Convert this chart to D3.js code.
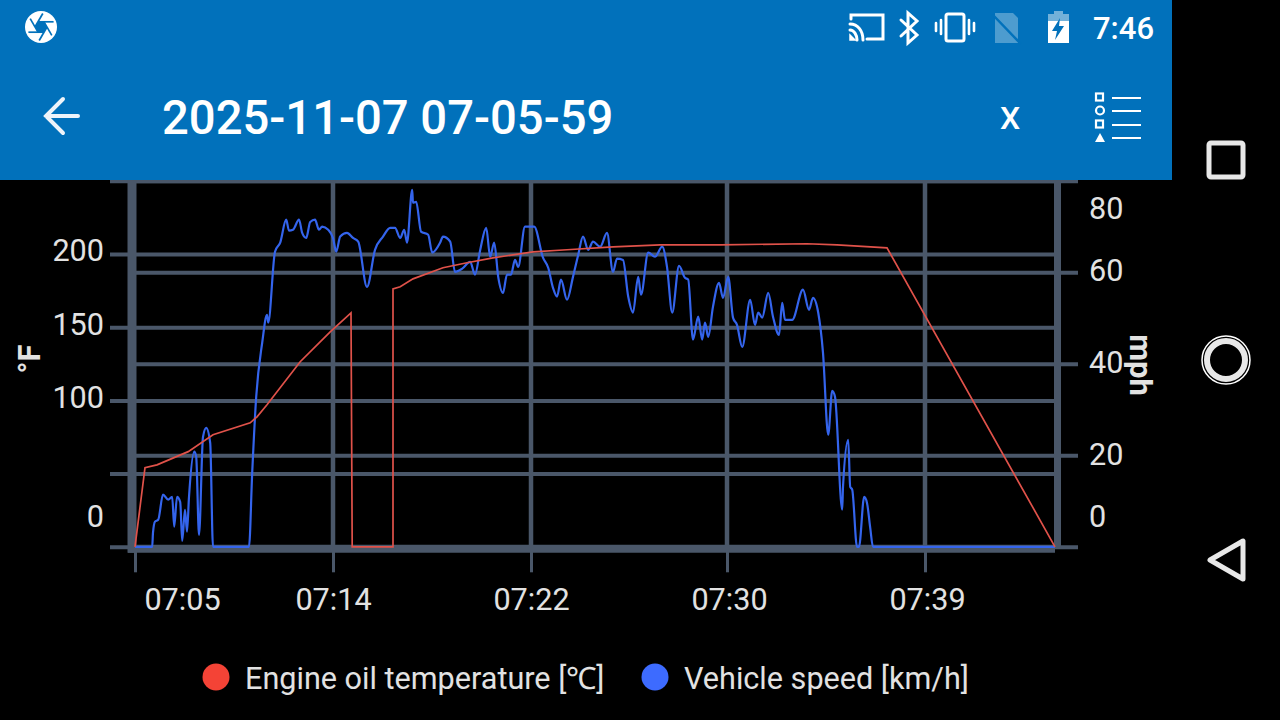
<!DOCTYPE html>
<html>
<head>
<meta charset="utf-8">
<script src="https://cdn.jsdelivr.net/npm/d3@7"></script>
<style>
	html, body { margin: 0; background: #000; overflow: hidden; }
	text { font-family: Roboto, sans-serif; }
</style>
</head>
<body>
<svg id="chart" width="1280" height="720"></svg>
<script>
// seconds after 07:05:59
const tick_seconds = [0, 495, 990, 1480, 1975];
const tick_labels = ["07:05", "07:14", "07:22", "07:30", "07:39"];
const temp_ticks = [0, 50, 100, 150, 200, 250];
const temp_labels = ["0", "", "100", "150", "200", ""];
const speed_ticks = [0, 20, 40, 60, 80];
const series_names = ["Engine oil temperature [℃]", "Vehicle speed [km/h]"];

// [seconds, °F]
const oil_temp = [
	[0,0],[25,54],[55,56],[133,65],[195,76.5],[288,84.7],[305,88.8],[330,97],[413,126.4],[488,146.8],
	[540,159.8],[543,0],[645,0],[645,176.2],[663,177.6],[695,183],[770,190.6],[830,194],[895,197.4],
	[995,201.5],[1080,202.9],[1195,204.9],[1313,206.3],[1463,206.3],[1680,207],[1755,206.3],[1880,204.2],[2300,0]
];

// [seconds, mph]
const speed = [
	[0,0],[43,0],[45,3.1],[50,5.5],[58,5.9],[70,11.4],[83,10.3],[93,10.9],[98,4.4],[105,10.9],
	[113,9.8],[118,1.3],[125,8.1],[130,3.3],[135,10.9],[148,20.8],[153,19.7],[160,2.6],[170,24],[178,26],
	[188,22.7],[195,0],[285,0],[293,16.2],[303,32.8],[318,44.6],[330,50.7],[333,49],[350,64.5],[363,66.5],
	[378,71.5],[385,69.1],[395,69.3],[410,71.5],[418,68.6],[428,67.5],[438,71],[450,71.5],[460,69.3],[468,70],
	[483,69.3],[495,67.5],[503,64.5],[513,67.8],[530,68.6],[545,67.5],[558,66.7],[580,56.8],[600,64.9],[620,67.8],
	[638,69.7],[650,69.7],[663,67.5],[673,69.3],[680,66.5],[693,78],[695,75.2],[703,75.4],[715,68.9],[733,68.2],
	[743,64.3],[763,66.5],[770,67.8],[788,66.7],[800,60.1],[818,60.8],[838,62.3],[850,59.5],[863,64.9],[878,69.7],
	[888,63.4],[898,66.5],[908,59],[920,55.5],[930,59.5],[940,59.5],[950,62.7],[958,61.2],[975,70],[998,70],
	[1020,63.2],[1033,61],[1045,56.6],[1055,54.7],[1065,58.4],[1080,54],[1095,59],[1108,63.8],[1120,67.8],[1133,64.9],
	[1145,66.7],[1163,65.6],[1180,68.6],[1195,60.1],[1205,63],[1220,62.7],[1233,54.7],[1245,51.2],[1258,59],[1265,55.1],
	[1283,64.3],[1300,63.4],[1318,65.6],[1330,61.2],[1343,51.2],[1360,61.4],[1375,58.8],[1383,58.4],[1395,45.3],[1408,50.3],
	[1418,45.3],[1425,49],[1433,45.9],[1445,52.5],[1460,57.7],[1470,54.4],[1483,59],[1495,50.1],[1505,48.5],[1518,43.7],
	[1538,54],[1550,48.5],[1558,51.2],[1568,50.1],[1583,55.5],[1595,50.3],[1610,46.3],[1618,53.3],[1625,49.6],[1643,49.6],
	[1670,56.2],[1685,51.8],[1695,54.4],[1708,51.2],[1720,42.4],[1733,24.5],[1743,34.1],[1750,32.8],[1768,8.1],[1770,13.1],
	[1783,23.4],[1788,13.1],[1793,12.5],[1805,0],[1810,0],[1823,10.9],[1830,9.6],[1838,4.2],[1845,0],[2300,0]
];

const grid_color = "#4a5769";
const text_color = "#e2e2e2";
const red = "#e0524a";
const blue = "#3464ec";
const header_color = "#0171bb";
const label_size = 30.6;

const $svg = d3.select("#chart");

const plot_left = 135, plot_right = 1055;
const plot_top = 180.8, plot_bottom = 546.8;

const x = d3.scaleLinear().domain([0, 2300]).range([plot_left, plot_right]);
const y_temp = d3.scaleLinear().domain([0, 250]).range([plot_bottom, plot_top]);
const y_speed = d3.scaleLinear().domain([0, 80]).range([plot_bottom, plot_top]);

function style_axis($g, width) {
	$g.select(".domain").remove();
	$g.selectAll("line").attr("stroke", grid_color).attr("stroke-width", width);
	$g.selectAll("text")
		.attr("fill", text_color)
		.attr("font-size", label_size);
}

// left axis, ticks stick out to the left and run across as grid
const $left = $svg.append("g")
	.attr("transform", `translate(${plot_left},0)`)
	.call(d3.axisLeft(y_temp)
		.tickValues(temp_ticks)
		.tickFormat((d, i) => temp_labels[i])
		.tickSizeOuter(0)
		.tickSizeInner(0));
$left.selectAll("line")
	.attr("x1", -25)
	.attr("x2", plot_right - plot_left);
style_axis($left, 4);
$left.selectAll("text")
	.attr("x", -31)
	.attr("dy", d => d == 0 ? -20 : d == 200 ? 6 : 7);

const $right = $svg.append("g")
	.attr("transform", `translate(${plot_right},0)`)
	.call(d3.axisRight(y_speed)
		.tickValues(speed_ticks)
		.tickSizeOuter(0)
		.tickSizeInner(23));
$right.selectAll("line").attr("x1", plot_left - plot_right);
style_axis($right, 4);
$right.selectAll("text")
	.attr("x", 34)
	.attr("dy", d => d == 0 ? -20 : d == 80 ? 38 : d == 60 ? 8 : 9);

const $bottom = $svg.append("g")
	.attr("transform", `translate(0,${plot_bottom + 1.5})`)
	.call(d3.axisBottom(x)
		.tickValues(tick_seconds)
		.tickFormat((d, i) => tick_labels[i])
		.tickSizeOuter(0)
		.tickSizeInner(24));
style_axis($bottom, 3);
$bottom.selectAll("text")
	.attr("y", 43)
	.attr("dy", 19)
	.attr("x", (d, i) => i == 0 ? 47 : i > 2 ? 2 : 0);

// thicker lines on the plot frame and the vertical grid
const $frame = $svg.append("g").attr("stroke", grid_color).attr("fill", "none");
$frame.selectAll(".vgrid")
	.data(tick_seconds.slice(1))
	.enter()
	.append("line")
	.attr("x1", d => x(d)).attr("x2", d => x(d))
	.attr("y1", plot_top).attr("y2", plot_bottom)
	.attr("stroke-width", 4.5);
$frame.append("line")
	.attr("x1", plot_left - 3).attr("x2", plot_left - 3)
	.attr("y1", plot_top).attr("y2", plot_bottom + 6)
	.attr("stroke-width", 9);
$frame.append("line")
	.attr("x1", plot_right + 2.5).attr("x2", plot_right + 2.5)
	.attr("y1", plot_top).attr("y2", plot_bottom + 1)
	.attr("stroke-width", 7);
$frame.append("line")
	.attr("x1", plot_left - 7).attr("x2", plot_right)
	.attr("y1", plot_bottom + 2).attr("y2", plot_bottom + 2)
	.attr("stroke-width", 8);

const line_temp = d3.line().x(d => x(d[0])).y(d => y_temp(d[1]));
const line_speed = d3.line().x(d => x(d[0])).y(d => y_speed(d[1])).curve(d3.curveMonotoneX);

$svg.append("path").datum(speed)
	.attr("d", line_speed)
	.attr("fill", "none").attr("stroke", blue).attr("stroke-width", 2.2);
$svg.append("path").datum(oil_temp)
	.attr("d", line_temp)
	.attr("fill", "none").attr("stroke", red).attr("stroke-width", 1.7);

// axis titles
$svg.append("text")
	.attr("transform", "translate(40,359) rotate(-90)")
	.attr("text-anchor", "middle")
	.attr("font-size", 31).attr("font-weight", 700)
	.attr("fill", text_color)
	.text("°F");
$svg.append("text")
	.attr("transform", "translate(1130,365) rotate(90)")
	.attr("text-anchor", "middle")
	.attr("font-size", 31).attr("font-weight", 700)
	.attr("fill", text_color)
	.text("mph");

// legend
const legend_x = [216, 655];
series_names.forEach(function(name, i) {
	$svg.append("circle")
		.attr("cx", legend_x[i]).attr("cy", 677).attr("r", 13.5)
		.attr("fill", i == 0 ? "#f44336" : "#3d6bff");
	$svg.append("text")
		.attr("x", legend_x[i] + 29).attr("y", 689)
		.attr("font-size", label_size)
		.attr("fill", text_color)
		.text(name);
});

// phone chrome: header
$svg.append("rect").attr("width", 1172).attr("height", 180).attr("fill", header_color);
$svg.append("text")
	.attr("x", 162).attr("y", 134)
	.attr("font-size", 47.2).attr("font-weight", 500).attr("fill", "#fff")
	.text("2025-11-07 07-05-59");
$svg.append("text")
	.attr("x", 1010).attr("y", 129).attr("text-anchor", "middle")
	.attr("font-size", 32).attr("font-weight", 500).attr("fill", "#fff")
	.text("X");
$svg.append("text")
	.attr("x", 1154).attr("y", 39).attr("text-anchor", "end")
	.attr("font-size", 31).attr("font-weight", 500).attr("fill", "#fff")
	.text("7:46");

const $icons = $svg.append("g").attr("fill", "none").attr("stroke", "#fff").attr("stroke-linecap", "round");

// back arrow
$icons.append("path").attr("d", "M78 116H46M63 99L46 116L63 133").attr("stroke-width", 4).attr("stroke", "#eef4fa");

// aperture: white disc, hexagon hole, slits running on from the hexagon sides
$icons.append("circle").attr("cx", 41).attr("cy", 27).attr("r", 16).attr("fill", "#fff").attr("stroke", "none");
const hex = d3.range(6).map(i => [41 + 6 * Math.cos(i * Math.PI / 3), 27 + 6 * Math.sin(i * Math.PI / 3)]);
$icons.append("path")
	.attr("d", d3.line()(hex) + "Z")
	.attr("fill", header_color).attr("stroke", "none");
hex.forEach(function(p, i) {
	const q = hex[(i + 1) % 6];
	$icons.append("line")
		.attr("x1", p[0]).attr("y1", p[1])
		.attr("x2", p[0] + (q[0] - p[0]) * 2.6).attr("y2", p[1] + (q[1] - p[1]) * 2.6)
		.attr("stroke", header_color).attr("stroke-width", 1.7).attr("stroke-linecap", "butt");
});

// cast
$icons.append("path").attr("d", "M851 19V15H883V39H867").attr("stroke-width", 3);
$icons.append("path").attr("d", "M850 24C858 24 863 31 863 40M850 30C854 30 857 35 857 40").attr("stroke-width", 3);
$icons.append("path").attr("d", "M850 35L850 40L855 40Z").attr("fill", "#fff").attr("stroke-width", 1.5);

// bluetooth
$icons.append("path").attr("d", "M901 20L917 35L908 43V13L917 21L901 36").attr("stroke-width", 3);

// vibrate
$icons.append("rect").attr("x", 946).attr("y", 14).attr("width", 18).attr("height", 27).attr("rx", 2).attr("stroke-width", 3);
$icons.append("path").attr("d", "M941 20V34M936 23V31M969 20V34M974 23V31").attr("stroke-width", 2.6);

// no sim
$icons.append("path").attr("d", "M995 13H1013L1018 18V43H995Z").attr("fill", "#fff").attr("fill-opacity", 0.3).attr("stroke", "none");
$icons.append("line").attr("x1", 993).attr("y1", 15).attr("x2", 1020).attr("y2", 43).attr("stroke", header_color).attr("stroke-width", 2.5);

// battery
$icons.append("path").attr("d", "M1054 11H1063V14H1069V24H1048V14H1054Z").attr("fill", "#fff").attr("fill-opacity", 0.45).attr("stroke", "none");
$icons.append("path").attr("d", "M1048 21H1069V43H1048Z").attr("fill", "#fff").attr("stroke", "none");
$icons.append("path").attr("d", "M1060 18L1052 31H1057L1055 40L1064 26H1059Z").attr("fill", header_color).attr("stroke", "none");

// series list icon
$icons.append("rect").attr("x", 1096).attr("y", 93.5).attr("width", 7).attr("height", 7).attr("stroke-width", 2.2);
$icons.append("circle").attr("cx", 1100).attr("cy", 110.5).attr("r", 4).attr("stroke-width", 2.2);
$icons.append("rect").attr("x", 1096).attr("y", 120.5).attr("width", 7).attr("height", 7).attr("stroke-width", 2.2);
$icons.append("path").attr("d", "M1100 133L1105 142H1095Z").attr("fill", "#fff").attr("stroke", "none");
$icons.append("path").attr("d", "M1112 98H1141M1112 111H1141M1112 125H1141M1112 138H1141").attr("stroke-width", 2).attr("stroke-linecap", "butt");

// android nav buttons
const $nav = $svg.append("g").attr("fill", "none").attr("stroke", "#e8e8e8").attr("stroke-linejoin", "round");
$nav.append("rect").attr("x", 1209).attr("y", 143).attr("width", 34).attr("height", 34).attr("rx", 2).attr("stroke-width", 5);
$nav.append("circle").attr("cx", 1226).attr("cy", 360).attr("r", 19).attr("stroke-width", 6);
$nav.append("circle").attr("cx", 1226).attr("cy", 360).attr("r", 24).attr("stroke-width", 1.5).attr("stroke", "#fff");
$nav.append("path").attr("d", "M1210 560L1243 541V579Z").attr("stroke-width", 5);
</script>
</body>
</html>
